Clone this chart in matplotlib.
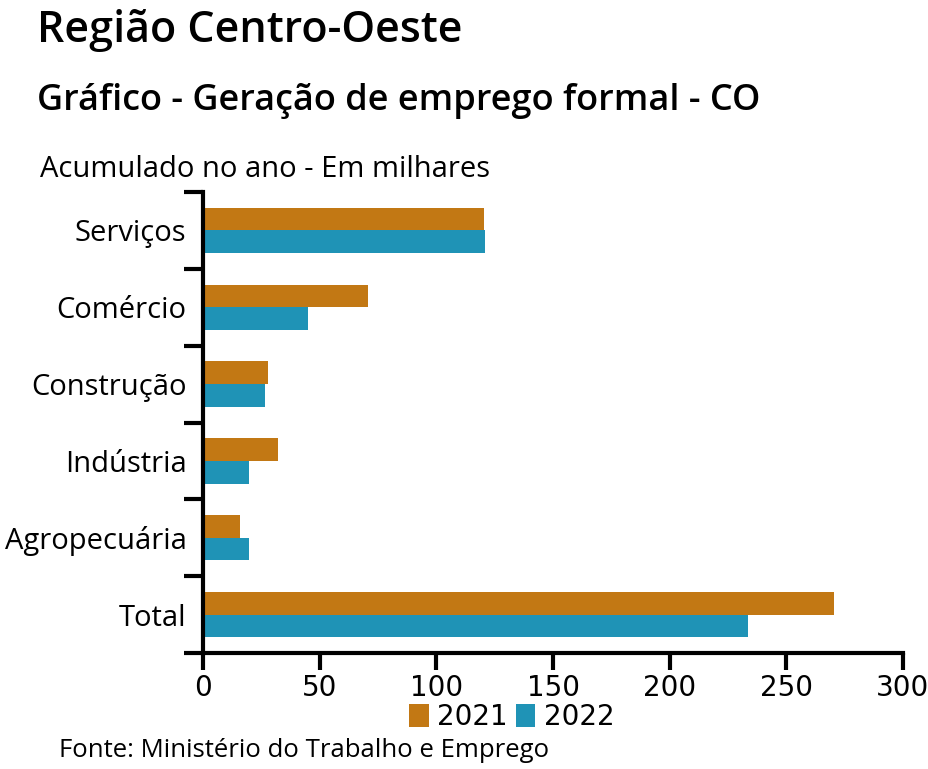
import matplotlib.pyplot as plt
import numpy as np

categorias = ["Serviços", "Comércio", "Construção", "Indústria", "Agropecuária", "Total"]
valores_2021 = [120.5, 70.5, 28, 32, 16, 270.5]
valores_2022 = [121, 45, 26.5, 19.5, 19.5, 233.5]
xticks = [0, 50, 100, 150, 200, 250, 300]

COR_2021 = "#C27814"
COR_2022 = "#1F93B6"

plt.rcParams['font.family'] = ['Open Sans', 'DejaVu Sans']

fig = plt.figure(figsize=(9.29, 7.69), dpi=100)
ax = fig.add_axes([0.2186, 0.1508, 0.7534, 0.5995])

n = len(categorias)
centros = np.arange(n)[::-1] + 0.5
altura = 0.295
ax.barh(centros + altura / 2, valores_2021, height=altura, color=COR_2021, label="2021")
ax.barh(centros - altura / 2, valores_2022, height=altura, color=COR_2022, label="2022")

ax.set_ylim(0, n)
ax.set_xlim(0, 300)
ax.set_yticks(np.arange(n + 1))
ax.set_yticklabels([])
ax.set_yticks(centros, minor=True)
ax.set_yticklabels(categorias, minor=True, fontsize=21)
ax.tick_params(axis='y', which='major', length=14, width=3, direction='out')
ax.tick_params(axis='y', which='minor', length=0, pad=12)

ax.set_xticks(xticks)
ax.set_xticklabels([str(t) for t in xticks], fontsize=20, family='Liberation Sans Narrow')
ax.tick_params(axis='x', length=12, width=3, direction='out', pad=3)

for s in ['top', 'right']:
    ax.spines[s].set_visible(False)
for s in ['left', 'bottom']:
    ax.spines[s].set_linewidth(3)

fig.text(0.04, 0.96, "Região Centro-Oeste", fontsize=31, fontweight='semibold', va='center')
fig.text(0.04, 0.869, "Gráfico - Geração de emprego formal - CO", fontsize=26, fontweight='semibold', va='center')
fig.text(0.043, 0.78, "Acumulado no ano - Em milhares", fontsize=21, va='center')
fig.text(0.064, 0.024, "Fonte: Ministério do Trabalho e Emprego", fontsize=18.5, va='center')

fig.legend(loc='center', bbox_to_anchor=(0.551, 0.068), ncol=2, frameon=False,
           handlelength=0.7, handleheight=0.9, handletextpad=0.3, columnspacing=0.3,
           prop={'family': 'Liberation Sans Narrow', 'size': 20})

fig.savefig("out.png", dpi=100)
